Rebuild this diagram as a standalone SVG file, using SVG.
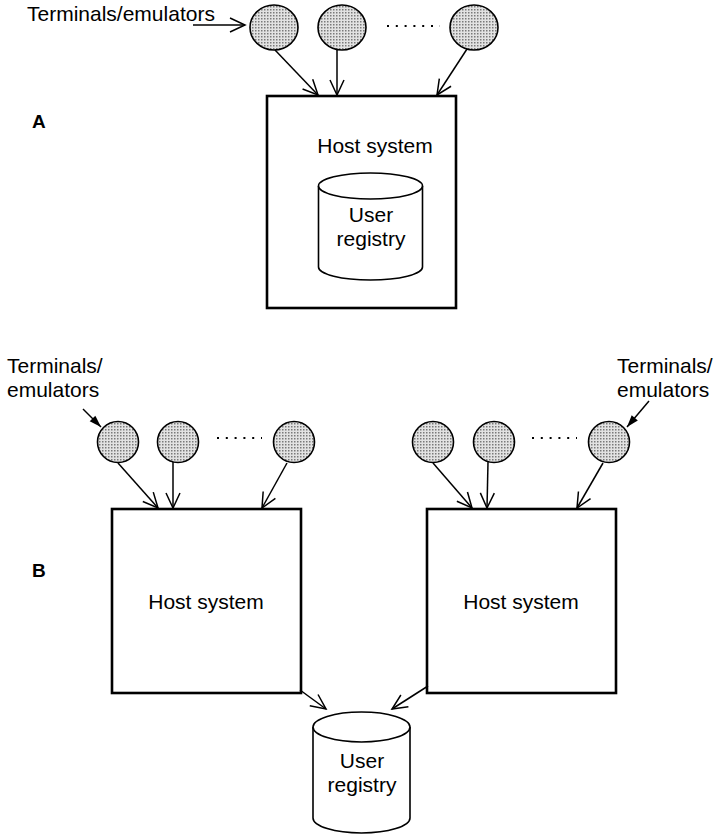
<svg xmlns="http://www.w3.org/2000/svg" width="724" height="834" viewBox="0 0 724 834">
<style>
  .t { font-family: "Liberation Sans", Arial, sans-serif; font-size: 21px; fill: #000; }
  .lbl { font-family: "Liberation Sans", Arial, sans-serif; font-size: 19px; font-weight: bold; fill: #000; }
  .box { fill: #fff; stroke: #000; stroke-width: 2.6; }
  .term { fill: url(#stip); stroke: #000; stroke-width: 1.6; }
  .cyl { fill: #fff; stroke: #000; stroke-width: 1.6; }
  .conn { stroke: #000; stroke-width: 1.5; fill: none; marker-end: url(#open); }
  .ptr { stroke: #000; stroke-width: 1.5; fill: none; marker-end: url(#solid); }
  .dots { stroke: #000; stroke-width: 2; stroke-dasharray: 2 6.8; fill: none; }
</style>
<defs>
  <pattern id="stip" width="3" height="3" patternUnits="userSpaceOnUse">
    <rect width="3" height="3" fill="#e2e2e2"/>
    <rect width="1.5" height="1.5" fill="#7a7a7a"/>
  </pattern>
  <marker id="open" markerUnits="userSpaceOnUse" markerWidth="18" markerHeight="16" refX="15" refY="7" orient="auto" overflow="visible">
    <path d="M0,0 L15,7 L0,14" fill="none" stroke="#000" stroke-width="1.5"/>
  </marker>
  <marker id="solid" markerUnits="userSpaceOnUse" markerWidth="14" markerHeight="10" refX="12" refY="4" orient="auto" overflow="visible">
    <path d="M0,0 L12,4 L0,8 Z" fill="#000"/>
  </marker>
</defs>

<!-- Part A -->
<g id="labelA"><text class="lbl" x="32" y="128">A</text></g>
<g id="termLabelA"><text class="t" x="27" y="21">Terminals/emulators</text></g>
<g id="hostA">
  <rect class="box" x="267" y="96" width="189" height="212"/>
  <text class="t" x="375" y="153" text-anchor="middle">Host system</text>
</g>
<g id="registryA">
  <path class="cyl" d="M318.5,186 L318.5,267 A52,13 0 0 0 422.5,267 L422.5,186"/>
  <ellipse class="cyl" cx="370.5" cy="186" rx="52" ry="13"/>
  <text class="t" x="371" y="222" text-anchor="middle">User</text>
  <text class="t" x="371" y="246" text-anchor="middle">registry</text>
</g>
<g id="termA1"><ellipse class="term" cx="274" cy="27.5" rx="24" ry="22.5"/></g>
<g id="termA2"><ellipse class="term" cx="342" cy="27.5" rx="24" ry="22.5"/></g>
<g id="termA3"><ellipse class="term" cx="474" cy="27.5" rx="24" ry="22.5"/></g>
<g id="dotsA"><line class="dots" x1="387" y1="26" x2="440" y2="26"/></g>

<!-- Part B -->
<g id="labelB"><text class="lbl" x="32" y="577">B</text></g>
<g id="termLabelBL">
  <text class="t" x="7" y="373">Terminals/</text>
  <text class="t" x="7" y="397">emulators</text>
</g>
<g id="termLabelBR">
  <text class="t" x="617" y="373">Terminals/</text>
  <text class="t" x="617" y="397">emulators</text>
</g>
<g id="hostBL">
  <rect class="box" x="112" y="509" width="189" height="184"/>
  <text class="t" x="206" y="609" text-anchor="middle">Host system</text>
</g>
<g id="hostBR">
  <rect class="box" x="427" y="509" width="189" height="184"/>
  <text class="t" x="521" y="609" text-anchor="middle">Host system</text>
</g>
<g id="termBL1"><circle class="term" cx="118" cy="442" r="20.5"/></g>
<g id="termBL2"><circle class="term" cx="178" cy="442" r="20.5"/></g>
<g id="termBL3"><circle class="term" cx="294" cy="442" r="20.5"/></g>
<g id="dotsBL"><line class="dots" x1="217" y1="438" x2="262" y2="438"/></g>
<g id="termBR1"><circle class="term" cx="433" cy="442" r="20.5"/></g>
<g id="termBR2"><circle class="term" cx="494" cy="442" r="20.5"/></g>
<g id="termBR3"><circle class="term" cx="609" cy="442" r="20.5"/></g>
<g id="dotsBR"><line class="dots" x1="532" y1="438" x2="577" y2="438"/></g>
<g id="registryB">
  <path class="cyl" d="M313,727 L313,818 A48.5,15 0 0 0 410,818 L410,727"/>
  <ellipse class="cyl" cx="361.5" cy="727" rx="48.5" ry="15"/>
  <text class="t" x="362" y="768" text-anchor="middle">User</text>
  <text class="t" x="362" y="792" text-anchor="middle">registry</text>
</g>

<!-- Connectors -->
<g id="connectors">
  <line class="conn" x1="193" y1="25" x2="245" y2="25"/>
  <line class="conn" x1="275" y1="50" x2="318" y2="95"/>
  <line class="conn" x1="337" y1="50" x2="337" y2="95"/>
  <line class="conn" x1="467" y1="49" x2="437" y2="95"/>

  <line class="ptr" x1="83" y1="409" x2="101" y2="427"/>
  <line class="ptr" x1="649" y1="401" x2="627" y2="427"/>

  <line class="conn" x1="118" y1="463" x2="158" y2="508"/>
  <line class="conn" x1="173" y1="462" x2="173" y2="508"/>
  <line class="conn" x1="287" y1="463" x2="262" y2="508"/>

  <line class="conn" x1="433" y1="463" x2="472" y2="508"/>
  <line class="conn" x1="488" y1="462" x2="487" y2="508"/>
  <line class="conn" x1="603" y1="463" x2="577" y2="508"/>

  <line class="conn" x1="300" y1="690" x2="326" y2="709"/>
  <line class="conn" x1="428" y1="686" x2="392" y2="709"/>
</g>
</svg>
